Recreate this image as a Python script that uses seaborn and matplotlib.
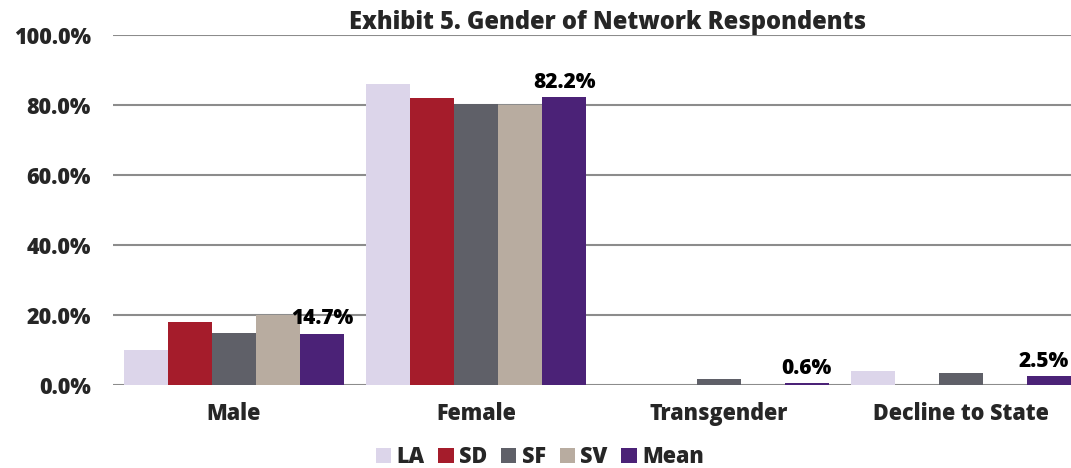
import matplotlib
matplotlib.use("Agg")
import matplotlib.pyplot as plt
import pandas as pd
import seaborn as sns

categories = ["Male", "Female", "Transgender", "Decline to State"]
sites = ["LA", "SD", "SF", "SV", "Mean"]
la = [10.0, 86.0, 0.0, 4.0]
sd = [17.9, 82.1, 0.0, 0.0]
sf = [14.9, 80.2, 1.7, 3.3]
sv = [20.0, 80.0, 0.0, 0.0]
mean = [14.7, 82.2, 0.6, 2.5]
mean_labels = ["14.7%", "82.2%", "0.6%", "2.5%"]
colors = ["#DCD5EA", "#A51C2B", "#5F6068", "#B8ACA0", "#4B2277"]

sns.set_style("white")
plt.rcParams['font.family'] = ['Open Sans', 'DejaVu Sans']
plt.rcParams['font.weight'] = 800

rows = []
for site, vals in zip(sites, [la, sd, sf, sv, mean]):
    for cat, v in zip(categories, vals):
        rows.append({"category": cat, "site": site, "value": v})
df = pd.DataFrame(rows)

fig = plt.figure(figsize=(10.71, 4.68), dpi=100)
ax = fig.add_axes([0.1054, 0.1774, 0.905, 0.7479])

sns.barplot(ax=ax, data=df, x="category", y="value", hue="site",
            order=categories, hue_order=sites, palette=colors,
            saturation=1, width=0.908, errorbar=None, linewidth=0)

labels = ax.bar_label(ax.containers[4], labels=mean_labels, padding=3,
                      fontsize=15, fontweight=800, color='black')
# last label sits at the right edge, keep it inside the figure
labels[-1].set_horizontalalignment('right')
labels[-1].xyann = (14, 3)

ax.set_ylim(0, 100)
ax.set_xlim(-0.5, 3.5)
ax.set_yticks([0, 20, 40, 60, 80, 100])
ax.set_yticklabels(["{:.1f}%".format(t) for t in [0, 20, 40, 60, 80, 100]],
                   fontsize=15.5, fontweight=800)
ax.set_xticks(range(len(categories)))
ax.set_xticklabels(categories, fontsize=15.5, fontweight=800)
ax.tick_params(axis='y', length=0, pad=16)
ax.tick_params(axis='x', length=0, pad=12)
ax.yaxis.grid(True, color="#8C8C8C", linewidth=1.5)
ax.set_axisbelow(True)
for s in ax.spines.values():
    s.set_visible(False)
ax.set_xlabel("")
ax.set_ylabel("")

fig.text(0.567, 0.952, "Exhibit 5. Gender of Network Respondents",
         ha='center', va='center', fontsize=17, fontweight=800)

ax.legend(loc='center', bbox_to_anchor=(0.504, 0.0235),
          bbox_transform=fig.transFigure, ncol=5, frameon=False,
          handlelength=0.7, handleheight=0.7, handletextpad=0.25,
          columnspacing=0.65, prop={'size': 15.5, 'weight': 800})

fig.savefig("out.png", dpi=100)
